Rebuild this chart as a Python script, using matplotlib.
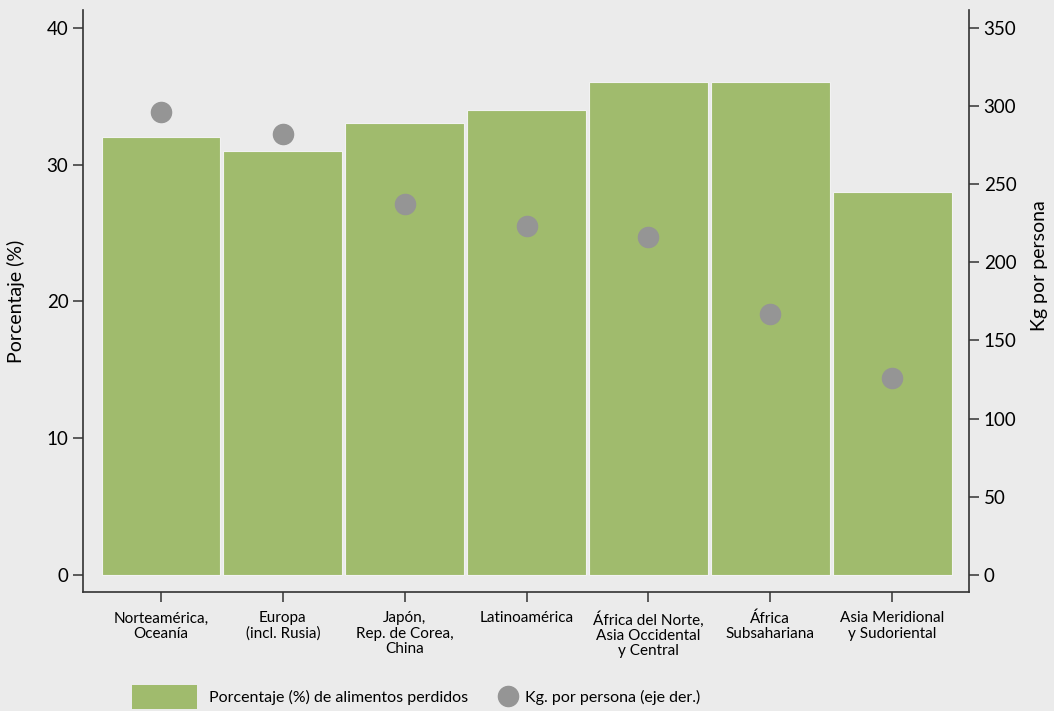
import matplotlib.pyplot as plt
from matplotlib.patches import Patch
from matplotlib.lines import Line2D

plt.rcParams['font.family'] = ['Lato', 'DejaVu Sans']

# data
regions = ['Norteamérica,\nOceanía', 'Europa\n(incl. Rusia)', 'Japón,\nRep. de Corea,\nChina',
           'Latinoamérica', 'África del Norte,\nAsia Occidental\ny Central', 'África\nSubsahariana',
           'Asia Meridional\ny Sudoriental']
pct_lost = [32, 31, 33, 34, 36, 36, 28]
kg_person = [296, 282, 237, 223, 216, 167, 126]

bg = '#ebebeb'
green = '#a0bb6d'
grey = '#959595'
dark = '#333333'

fig = plt.figure(figsize=(10.54, 7.11), dpi=100, facecolor=bg)
ax = fig.add_axes([0.0787, 0.1674, 0.8407, 0.8186], facecolor=bg)
ax2 = ax.twinx()

x = list(range(len(regions)))
ax.bar(x, pct_lost, width=0.975, color=green, edgecolor='#f2f2f2', linewidth=0.8, zorder=2)
ax2.plot(x, kg_person, 'o', color=grey, markersize=14.5, zorder=3)

ax.set_xlim(-0.64, 6.63)
ax.set_ylim(-1.25, 41.3)
ax2.set_ylim(-1.25 * 8.75, 41.3 * 8.75)
ax.set_yticks([0, 10, 20, 30, 40])
ax2.set_yticks([0, 50, 100, 150, 200, 250, 300, 350])
ax.set_xticks(x)
ax.set_xticklabels(regions, fontsize=11, linespacing=1.1)

for a in (ax, ax2):
    a.spines['top'].set_visible(False)
    for s in ('left', 'right', 'bottom'):
        a.spines[s].set_color(dark)
        a.spines[s].set_linewidth(1.2)
    a.tick_params(length=7, width=1.1, color=dark, labelsize=13.5)
ax.tick_params(axis='x', labelsize=11, pad=7)
ax2.spines['left'].set_visible(False)
ax2.spines['bottom'].set_visible(False)
ax.spines['right'].set_visible(False)

ax.set_ylabel('Porcentaje (%)', fontsize=14)
ax2.set_ylabel('Kg por persona', fontsize=14)
ax.yaxis.set_label_coords(-0.065, 0.5)
ax2.yaxis.set_label_coords(1.07, 0.56)

# legend: two separate entries so the spacing can follow the original
y_leg = 1 - 697 / 711
fig.legend([Patch(facecolor=green, edgecolor='none')], ['Porcentaje (%) de alimentos perdidos'],
           loc='center left', bbox_to_anchor=(132 / 1054, y_leg), frameon=False, fontsize=11.5,
           borderpad=0, borderaxespad=0, handlelength=4.1, handleheight=1.9, handletextpad=0.75)
fig.legend([Line2D([], [], marker='o', linestyle='none', color=grey, markersize=14.5)],
           ['Kg. por persona (eje der.)'],
           loc='center left', bbox_to_anchor=(498 / 1054, y_leg), frameon=False, fontsize=11.5,
           borderpad=0, borderaxespad=0, handlelength=1.2, handletextpad=0.5)

fig.savefig('out.png', dpi=100, facecolor=bg)
